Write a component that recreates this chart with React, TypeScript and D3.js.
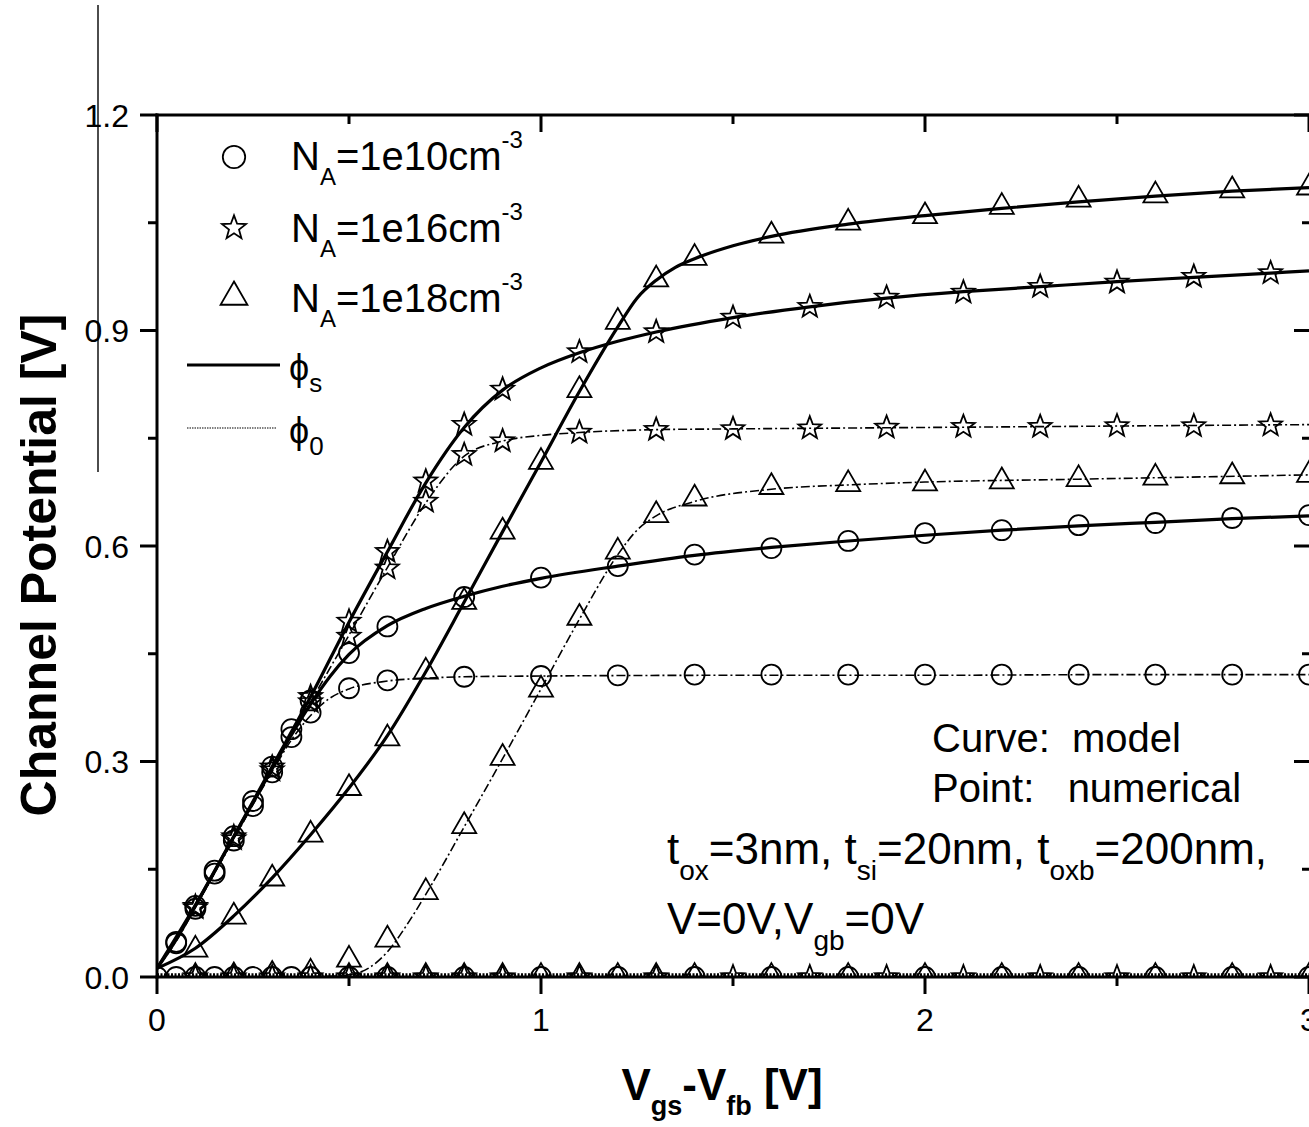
import React from 'react';
import * as d3 from 'd3';

const W = 1309;
const H = 1127;

// ---------- tick data ----------
const xMajorTicks = [0, 1, 2, 3];
const xMinorTicks = [0.5, 1.5, 2.5];
const xTickLabels = ['0', '1', '2', '3'];
const yMajorTicks = [0, 0.3, 0.6, 0.9, 1.2];
const yMinorTicks = [0.15, 0.45, 0.75, 1.05];
const yTickLabels = ['0.0', '0.3', '0.6', '0.9', '1.2'];

// ---------- N_A = 1e10 (circles) ----------
const na10PhisModelX = [0, 0.05, 0.1, 0.15, 0.2, 0.25, 0.3, 0.35, 0.4, 0.45, 0.5, 0.6, 0.7, 0.8, 0.9, 1.0, 1.2, 1.4, 1.6, 1.8, 2.0, 2.2, 2.4, 2.6, 2.8, 3.0];
const na10PhisModelY = [0.012, 0.052, 0.099, 0.147, 0.195, 0.243, 0.29, 0.337, 0.38, 0.418, 0.449, 0.489, 0.513, 0.53, 0.544, 0.555, 0.572, 0.587, 0.598, 0.607, 0.615, 0.622, 0.628, 0.633, 0.638, 0.642];
const na10Phi0ModelX = [0, 0.05, 0.1, 0.15, 0.2, 0.25, 0.3, 0.35, 0.4, 0.45, 0.5, 0.6, 0.7, 0.8, 1.0, 1.5, 2.0, 2.5, 3.0];
const na10Phi0ModelY = [0.012, 0.05, 0.097, 0.145, 0.192, 0.24, 0.286, 0.33, 0.364, 0.388, 0.401, 0.412, 0.416, 0.418, 0.419, 0.42, 0.42, 0.421, 0.421];
const na10PointX = [0.05, 0.1, 0.15, 0.2, 0.25, 0.3, 0.35, 0.4, 0.5, 0.6, 0.8, 1.0, 1.2, 1.4, 1.6, 1.8, 2.0, 2.2, 2.4, 2.6, 2.8, 3.0];
const na10PhisPointY = [0.049, 0.099, 0.148, 0.196, 0.245, 0.293, 0.345, 0.385, 0.451, 0.488, 0.529, 0.556, 0.572, 0.588, 0.597, 0.607, 0.618, 0.622, 0.629, 0.632, 0.639, 0.643];
const na10Phi0PointY = [0.047, 0.095, 0.144, 0.19, 0.238, 0.285, 0.334, 0.368, 0.402, 0.413, 0.418, 0.419, 0.42, 0.421, 0.421, 0.421, 0.421, 0.421, 0.421, 0.421, 0.421, 0.421];

// ---------- N_A = 1e16 (stars) ----------
const na16PhisModelX = [0, 0.1, 0.2, 0.3, 0.4, 0.5, 0.6, 0.7, 0.8, 0.9, 1.0, 1.1, 1.2, 1.3, 1.5, 1.7, 1.9, 2.1, 2.3, 2.5, 2.7, 2.9, 3.0];
const na16PhisModelY = [0.012, 0.1, 0.196, 0.293, 0.39, 0.494, 0.592, 0.688, 0.765, 0.817, 0.848, 0.869, 0.885, 0.898, 0.918, 0.933, 0.945, 0.954, 0.961, 0.968, 0.974, 0.98, 0.983];
const na16Phi0ModelX = [0, 0.1, 0.2, 0.3, 0.4, 0.5, 0.6, 0.7, 0.8, 0.9, 1.0, 1.1, 1.3, 1.5, 2.0, 2.5, 3.0];
const na16Phi0ModelY = [0.012, 0.098, 0.193, 0.289, 0.383, 0.476, 0.57, 0.66, 0.725, 0.746, 0.754, 0.758, 0.762, 0.763, 0.765, 0.767, 0.769];
const na16PointX = [0.1, 0.2, 0.3, 0.4, 0.5, 0.6, 0.7, 0.8, 0.9, 1.1, 1.3, 1.5, 1.7, 1.9, 2.1, 2.3, 2.5, 2.7, 2.9];
const na16PhisPointY = [0.098, 0.195, 0.292, 0.39, 0.495, 0.592, 0.69, 0.769, 0.818, 0.87, 0.898, 0.918, 0.933, 0.946, 0.953, 0.961, 0.967, 0.975, 0.98];
const na16Phi0PointY = [0.096, 0.192, 0.288, 0.383, 0.474, 0.569, 0.662, 0.727, 0.746, 0.758, 0.762, 0.763, 0.764, 0.765, 0.766, 0.766, 0.767, 0.767, 0.768];

// ---------- N_A = 1e18 (triangles) ----------
const na18PhisModelX = [0, 0.1, 0.2, 0.3, 0.4, 0.5, 0.6, 0.7, 0.8, 0.9, 1.0, 1.1, 1.2, 1.25, 1.3, 1.35, 1.4, 1.5, 1.6, 1.8, 2.0, 2.2, 2.4, 2.6, 2.8, 3.0];
const na18PhisModelY = [0.012, 0.04, 0.085, 0.138, 0.198, 0.263, 0.336, 0.425, 0.522, 0.62, 0.717, 0.815, 0.905, 0.945, 0.97, 0.988, 1.0, 1.018, 1.031, 1.048, 1.06, 1.07, 1.079, 1.087, 1.094, 1.099];
const na18Phi0ModelX = [0, 0.3, 0.45, 0.5, 0.55, 0.6, 0.65, 0.7, 0.8, 0.9, 1.0, 1.1, 1.2, 1.25, 1.3, 1.4, 1.6, 1.8, 2.0, 2.4, 3.0];
const na18Phi0ModelY = [0.0, 0.0, 0.001, 0.003, 0.012, 0.035, 0.072, 0.115, 0.209, 0.304, 0.401, 0.498, 0.588, 0.622, 0.642, 0.662, 0.679, 0.685, 0.689, 0.693, 0.699];
const na18PointX = [0.1, 0.2, 0.3, 0.4, 0.5, 0.6, 0.7, 0.8, 0.9, 1.0, 1.1, 1.2, 1.3, 1.4, 1.6, 1.8, 2.0, 2.2, 2.4, 2.6, 2.8, 3.0];
const na18PhisPointY = [0.038, 0.084, 0.137, 0.198, 0.263, 0.332, 0.425, 0.522, 0.62, 0.717, 0.817, 0.912, 0.971, 1.001, 1.032, 1.05, 1.059, 1.072, 1.082, 1.088, 1.095, 1.099];
const na18Phi0PointY = [0.0, 0.001, 0.003, 0.006, 0.024, 0.052, 0.118, 0.21, 0.305, 0.4, 0.5, 0.592, 0.643, 0.666, 0.682, 0.686, 0.687, 0.69, 0.693, 0.695, 0.697, 0.699];

// ---------- near-zero numerical points along the x axis ----------
const zeroCircleX = [0, 0.05, 0.1, 0.15, 0.2, 0.25, 0.3, 0.35, 0.4, 0.5, 0.6, 0.8, 1.0, 1.2, 1.4, 1.6, 1.8, 2.0, 2.2, 2.4, 2.6, 2.8, 3.0];
const zeroCircleY = [0, 0, 0, 0, 0, 0, 0, 0, 0, 0, 0, 0, 0, 0, 0, 0, 0, 0, 0, 0, 0, 0, 0];
const zeroStarX = [0.1, 0.2, 0.3, 0.4, 0.5, 0.6, 0.7, 0.8, 0.9, 1.1, 1.3, 1.5, 1.7, 1.9, 2.1, 2.3, 2.5, 2.7, 2.9];
const zeroStarY = [0, 0, 0, 0, 0, 0, 0, 0, 0, 0, 0, 0, 0, 0, 0, 0, 0, 0, 0];
const zeroTriX = [0.5, 0.6, 0.7, 0.8, 0.9, 1.0, 1.1, 1.2, 1.3, 1.4, 1.6, 1.8, 2.0, 2.2, 2.4, 2.6, 2.8, 3.0];
const zeroTriY = [0, 0, 0, 0, 0, 0, 0, 0, 0, 0, 0, 0, 0, 0, 0, 0, 0, 0];
const zeroLineX = [0, 3];
const zeroLineY = [0.003, 0.003];

// ---------- layout ----------
const x = d3.scaleLinear().domain([0, 3]).range([157, 1309]);
const y = d3.scaleLinear().domain([0, 1.2]).range([977, 115]);

const starType = {
  draw(ctx: any, size: number) {
    const R = Math.sqrt(size);
    const r = R * 0.42;
    for (let i = 0; i < 10; i++) {
      const a = -Math.PI / 2 + (i * Math.PI) / 5;
      const rad = i % 2 === 0 ? R : r;
      const px = rad * Math.cos(a);
      const py = rad * Math.sin(a);
      if (i === 0) ctx.moveTo(px, py);
      else ctx.lineTo(px, py);
    }
    ctx.closePath();
  },
};

const circlePath = (k = 1) => d3.symbol().type(d3.symbolCircle).size(Math.PI * 10 * 10 * k * k)() as string;
const starPath = (k = 1) => d3.symbol().type(starType as any).size(12 * 12 * k * k)() as string;
const triPath = (k = 1) => d3.symbol().type(d3.symbolTriangle).size(((24 * 24 * Math.sqrt(3)) / 4) * k * k)() as string;

const zip = (xs: number[], ys: number[]) => xs.map((v, i) => [v, ys[i]] as [number, number]);
const lineGen = d3
  .line<[number, number]>()
  .x((d) => x(d[0]))
  .y((d) => y(d[1]))
  .curve(d3.curveMonotoneX);

const FONT = 'Arial, "Liberation Sans", Helvetica, sans-serif';
const NB = '\u00A0';

function Markers({ xs, ys, path }: { xs: number[]; ys: number[]; path: string }) {
  return (
    <g>
      {xs.map((v, i) => (
        <path
          key={i}
          d={path}
          transform={`translate(${x(v)},${y(ys[i])})`}
          fill="none"
          stroke="#000"
          strokeWidth={1.8}
        />
      ))}
    </g>
  );
}

const SOLID = { fill: 'none', stroke: '#000', strokeWidth: 3.2 };
const DASHDOT = { fill: 'none', stroke: '#000', strokeWidth: 1.6, strokeDasharray: '9,3,2,3' };

export default function App() {
  const cP = circlePath();
  const sP = starPath();
  const tP = triPath();
  const legendRows = [
    { path: circlePath(1.12), label: '1e10' },
    { path: starPath(1.05), label: '1e16' },
    { path: triPath(1.12), label: '1e18' },
  ];
  const legendY = [157, 228, 297];
  const legendBase = [170, 242, 312];

  return (
    <svg
      width={W}
      height={H}
      style={{ position: 'absolute', left: 0, top: 0, background: '#fff', fontFamily: FONT }}
    >
      <rect x={0} y={0} width={W} height={H} fill="#fff" />
      <defs>
        <clipPath id="plotClip">
          <rect x={157} y={100} width={1200} height={877} />
        </clipPath>
      </defs>

      {/* stray vertical line */}
      <line x1={98} y1={5} x2={98} y2={472} stroke="#000" strokeWidth={1.4} />

      <g clipPath="url(#plotClip)">
        {/* near-zero line */}
        <path d={lineGen(zip(zeroLineX, zeroLineY)) as string} fill="none" stroke="#000" strokeWidth={3} strokeDasharray="2,1.5" />
        {/* model curves */}
        <path d={lineGen(zip(na10Phi0ModelX, na10Phi0ModelY)) as string} {...DASHDOT} />
        <path d={lineGen(zip(na16Phi0ModelX, na16Phi0ModelY)) as string} {...DASHDOT} />
        <path d={lineGen(zip(na18Phi0ModelX, na18Phi0ModelY)) as string} {...DASHDOT} />
        <path d={lineGen(zip(na10PhisModelX, na10PhisModelY)) as string} {...SOLID} />
        <path d={lineGen(zip(na16PhisModelX, na16PhisModelY)) as string} {...SOLID} />
        <path d={lineGen(zip(na18PhisModelX, na18PhisModelY)) as string} {...SOLID} />

        {/* numerical points */}
        <Markers xs={zeroCircleX} ys={zeroCircleY} path={cP} />
        <Markers xs={zeroStarX} ys={zeroStarY} path={sP} />
        <Markers xs={zeroTriX} ys={zeroTriY} path={tP} />
        <Markers xs={na10PointX} ys={na10Phi0PointY} path={cP} />
        <Markers xs={na10PointX} ys={na10PhisPointY} path={cP} />
        <Markers xs={na16PointX} ys={na16Phi0PointY} path={sP} />
        <Markers xs={na16PointX} ys={na16PhisPointY} path={sP} />
        <Markers xs={na18PointX} ys={na18Phi0PointY} path={tP} />
        <Markers xs={na18PointX} ys={na18PhisPointY} path={tP} />
      </g>

      {/* axes frame */}
      <g stroke="#000" strokeWidth={3} strokeLinecap="square">
        <line x1={x(0)} y1={y(1.2)} x2={x(0)} y2={y(0)} />
        <line x1={x(0)} y1={y(0)} x2={x(3) + 3} y2={y(0)} />
        <line x1={x(0)} y1={y(1.2)} x2={x(3) + 3} y2={y(1.2)} />
        <line x1={x(3) + 2} y1={y(1.2)} x2={x(3) + 2} y2={y(0)} />
      </g>
      <g stroke="#000" strokeWidth={3}>
        {xMajorTicks.map((v) => (
          <g key={'xM' + v}>
            <line x1={x(v)} y1={y(0)} x2={x(v)} y2={y(0) + 17} />
            <line x1={x(v)} y1={y(1.2)} x2={x(v)} y2={y(1.2) + 17} />
          </g>
        ))}
        {xMinorTicks.map((v) => (
          <g key={'xm' + v}>
            <line x1={x(v)} y1={y(0)} x2={x(v)} y2={y(0) + 9} />
            <line x1={x(v)} y1={y(1.2)} x2={x(v)} y2={y(1.2) + 9} />
          </g>
        ))}
        {yMajorTicks.map((v) => (
          <g key={'yM' + v}>
            <line x1={x(0) - 17} y1={y(v)} x2={x(0)} y2={y(v)} />
            <line x1={x(3) + 2} y1={y(v)} x2={x(3) - 15} y2={y(v)} />
          </g>
        ))}
        {yMinorTicks.map((v) => (
          <g key={'ym' + v}>
            <line x1={x(0) - 9} y1={y(v)} x2={x(0)} y2={y(v)} />
            <line x1={x(3) + 2} y1={y(v)} x2={x(3) - 7} y2={y(v)} />
          </g>
        ))}
      </g>

      {/* tick labels */}
      <g fontSize={32} fill="#000">
        {xMajorTicks.map((v, i) => (
          <text key={'xl' + v} x={x(v)} y={1031} textAnchor="middle">
            {xTickLabels[i]}
          </text>
        ))}
        {yMajorTicks.map((v, i) => (
          <text key={'yl' + v} x={129} y={y(v) + 11.5} textAnchor="end">
            {yTickLabels[i]}
          </text>
        ))}
      </g>

      {/* axis titles */}
      <text x={722} y={1100} textAnchor="middle" fontSize={44} fontWeight="bold">
        V<tspan fontSize={27} dy={15}>gs</tspan>
        <tspan dy={-15}>-V</tspan>
        <tspan fontSize={27} dy={15}>fb</tspan>
        <tspan dy={-15}>{NB}[V]</tspan>
      </text>
      <text
        transform="translate(56,565) rotate(-90)"
        textAnchor="middle"
        fontSize={50}
        fontWeight="bold"
      >
        Channel Potential [V]
      </text>

      {/* legend */}
      {legendRows.map((r, i) => (
        <g key={'lg' + i}>
          <path d={r.path} transform={`translate(234,${legendY[i]})`} fill="none" stroke="#000" strokeWidth={1.8} />
          <text x={291} y={legendBase[i]} fontSize={40}>
            N<tspan fontSize={24} dy={15}>A</tspan>
            <tspan dy={-15}>={r.label}cm</tspan>
            <tspan fontSize={24} dy={-22}>-3</tspan>
          </text>
        </g>
      ))}
      <line x1={187} y1={365} x2={280} y2={365} stroke="#000" strokeWidth={3.2} />
      <text x={289} y={380} fontSize={36}>
        ϕ<tspan fontSize={26} dy={12}>s</tspan>
      </text>
      <line x1={187} y1={428} x2={277} y2={428} stroke="#000" strokeWidth={1.2} strokeDasharray="1.5,1" />
      <text x={289} y={443} fontSize={36}>
        ϕ<tspan fontSize={26} dy={12}>0</tspan>
      </text>

      {/* annotations */}
      <g fontSize={40}>
        <text x={932} y={752}>{`Curve:${NB}${NB}model`}</text>
        <text x={932} y={802}>{`Point:${NB}${NB}${NB}numerical`}</text>
      </g>
      <g fontSize={44}>
        <text x={667} y={864}>
          t<tspan fontSize={28} dy={16}>ox</tspan>
          <tspan dy={-16}>{`=3nm,${NB}t`}</tspan>
          <tspan fontSize={28} dy={16}>si</tspan>
          <tspan dy={-16}>{`=20nm,${NB}t`}</tspan>
          <tspan fontSize={28} dy={16}>oxb</tspan>
          <tspan dy={-16}>=200nm,</tspan>
        </text>
        <text x={667} y={934}>
          V=0V,V<tspan fontSize={28} dy={16}>gb</tspan>
          <tspan dy={-16}>=0V</tspan>
        </text>
      </g>
    </svg>
  );
}
